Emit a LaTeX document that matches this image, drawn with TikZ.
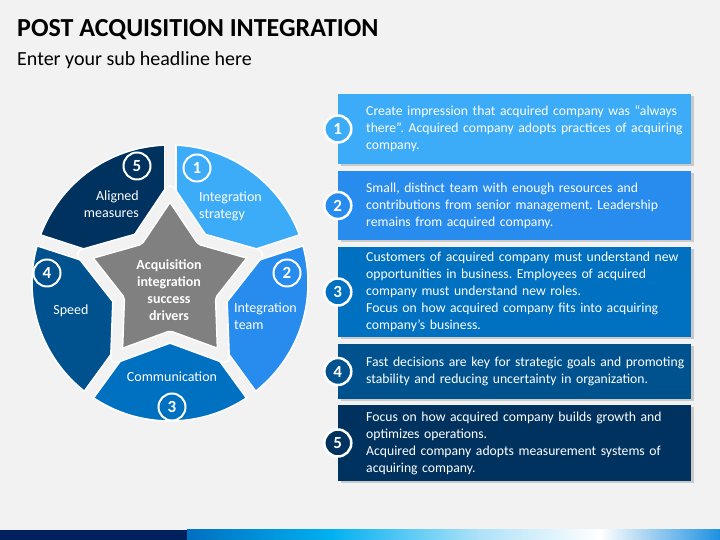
\documentclass[tikz,border=0pt]{standalone}
\usepackage{fontspec}
\setmainfont{Carlito}
\usepackage{tikz}
\usetikzlibrary{shadows}
\frenchspacing
\definecolor{bggray}{RGB}{242,242,242}
\definecolor{pblueone}{RGB}{61,172,248}
\definecolor{pbluetwo}{RGB}{40,140,238}
\definecolor{pbluethree}{RGB}{0,112,192}
\definecolor{pbluefour}{RGB}{0,82,142}
\definecolor{pbluefive}{RGB}{0,50,96}
\definecolor{stargray}{RGB}{128,128,128}
\definecolor{barnavy}{RGB}{0,32,96}
\definecolor{barcyan}{RGB}{0,176,240}
\definecolor{barlight}{RGB}{175,226,248}
\definecolor{barend}{RGB}{30,144,224}
\tikzstyle{infobox} = [rectangle, minimum width=353pt, inner sep=0pt, drop shadow={shadow xshift=2.5pt, shadow yshift=-2.5pt, opacity=0.35}]
\tikzstyle{infotext} = [anchor=west, text width=335pt, align=left, inner sep=0pt, text=white, font=\fontsize{13.7}{17}\selectfont]
\tikzstyle{boxnum} = [circle, draw=white, line width=2.5pt, minimum size=27pt, inner sep=0pt, text=white, font=\bfseries\fontsize{17}{17}\selectfont]
\tikzstyle{pienum} = [circle, draw=white, line width=2pt, minimum size=27pt, inner sep=0pt, text=white, font=\bfseries\fontsize{17}{17}\selectfont]
\tikzstyle{pielabel} = [inner sep=0pt, text=white, font=\fontsize{14}{17}\selectfont]
\tikzstyle{gapline} = [draw=white, line width=1.5pt, double=bggray, double distance=10pt]

\begin{document}
\begin{tikzpicture}[x=1pt, y=1pt]
    \fill[bggray] (0,0) rectangle (720,540);
    \useasboundingbox (0,0) rectangle (720,540);

    % Title
    \node[anchor=base west, inner sep=0pt, font=\bfseries\fontsize{26}{30}\selectfont] (title) at (17,503) {POST ACQUISITION INTEGRATION};
    \node[anchor=base west, inner sep=0pt, font=\fontsize{20}{24}\selectfont] (subtitle) at (17,474) {Enter your sub headline here};

    % Pie segments and star
    \begin{scope}[shift={(170,257)}]
        \fill[pblueone] (0,0) -- (18:138) arc[start angle=18, end angle=90, radius=138pt] -- cycle;
        \fill[pbluefive] (0,0) -- (90:138) arc[start angle=90, end angle=162, radius=138pt] -- cycle;
        \fill[pbluefour] (0,0) -- (162:138) arc[start angle=162, end angle=234, radius=138pt] -- cycle;
        \fill[pbluethree] (0,0) -- (234:138) arc[start angle=234, end angle=306, radius=138pt] -- cycle;
        \fill[pbluetwo] (0,0) -- (306:138) arc[start angle=306, end angle=378, radius=138pt] -- cycle;
        \draw[white, line width=1.5pt] (0,0) circle[radius=138pt];
        \begin{scope}
            \clip (0,0) circle[radius=139pt];
            \foreach \a in {18,90,162,234,306}
                \draw[gapline] (\a:85) -- (\a:150);
        \end{scope}
        \draw[gapline, fill=stargray, line join=round] (90:91) -- (126:54) -- (162:91) -- (198:54) -- (234:91)
            -- (270:54) -- (306:91) -- (342:54) -- (18:91) -- (54:54) -- cycle;
    \end{scope}
    \node[pielabel, align=center, font=\bfseries\fontsize{14}{17}\selectfont] (starlabel) at (169,250) {Acquisition\\integration\\success\\drivers};

    % Pie labels
    \node[pienum] (pnone) at (197,372) {1};
    \node[pienum] (pntwo) at (287,267) {2};
    \node[pienum] (pnthree) at (172,133) {3};
    \node[pienum] (pnfour) at (47,267) {4};
    \node[pienum] (pnfive) at (137,374) {5};
    \node[pielabel, anchor=west, align=left] (plone) at (199,334) {Integration\\strategy};
    \node[pielabel, anchor=west, align=left] (pltwo) at (234,224) {Integration\\team};
    \node[pielabel] (plthree) at (172,163) {Communication};
    \node[pielabel] (plfour) at (71,229) {Speed};
    \node[pielabel, anchor=east, align=right] (plfive) at (139,336) {Aligned\\measures};

    % Boxes
    \node[infobox, fill=pblueone, minimum height=70pt] (boxone) at (514.5,411) {};
    \node[infobox, fill=pbluetwo, minimum height=69pt] (boxtwo) at (514.5,334.5) {};
    \node[infobox, fill=pbluethree, minimum height=90pt] (boxthree) at (514.5,248) {};
    \node[infobox, fill=pbluefour, minimum height=55pt] (boxfour) at (514.5,168.5) {};
    \node[infobox, fill=pbluefive, minimum height=76pt] (boxfive) at (514.5,97) {};

    \node[boxnum, fill=pblueone] (numone) at (boxone.west) {1};
    \node[boxnum, fill=pbluetwo] (numtwo) at (boxtwo.west) {2};
    \node[boxnum, fill=pbluethree] (numthree) at (boxthree.west) {3};
    \node[boxnum, fill=pbluefour] (numfour) at (boxfour.west) {4};
    \node[boxnum, fill=pbluefive] (numfive) at (boxfive.west) {5};

    \node[infotext] (textone) at (366,411) {Create impression that acquired company was “always\\there”. Acquired company adopts practices of acquiring\\company.};
    \node[infotext] (texttwo) at (366,334.5) {Small, distinct team with enough resources and\\contributions from senior management. Leadership\\remains from acquired company.};
    \node[infotext] (textthree) at (366,248) {Customers of acquired company must understand new\\opportunities in business. Employees of acquired\\company must understand new roles.\\Focus on how acquired company fits into acquiring\\company’s business.};
    \node[infotext] (textfour) at (366,168.5) {Fast decisions are key for strategic goals and promoting\\stability and reducing uncertainty in organization.};
    \node[infotext] (textfive) at (366,97) {Focus on how acquired company builds growth and\\optimizes operations.\\Acquired company adopts measurement systems of\\acquiring company.};

    % Bottom bar
    \fill[barnavy] (0,0) rectangle (187,10);
    \shade[left color=pbluethree, right color=barcyan] (187,0) rectangle (330,10);
    \shade[left color=barcyan, right color=barlight] (330,0) rectangle (480,10);
    \shade[left color=barlight, right color=white] (480,0) rectangle (600,10);
    \shade[left color=white, right color=barend] (600,0) rectangle (720,10);
\end{tikzpicture}
\end{document}
